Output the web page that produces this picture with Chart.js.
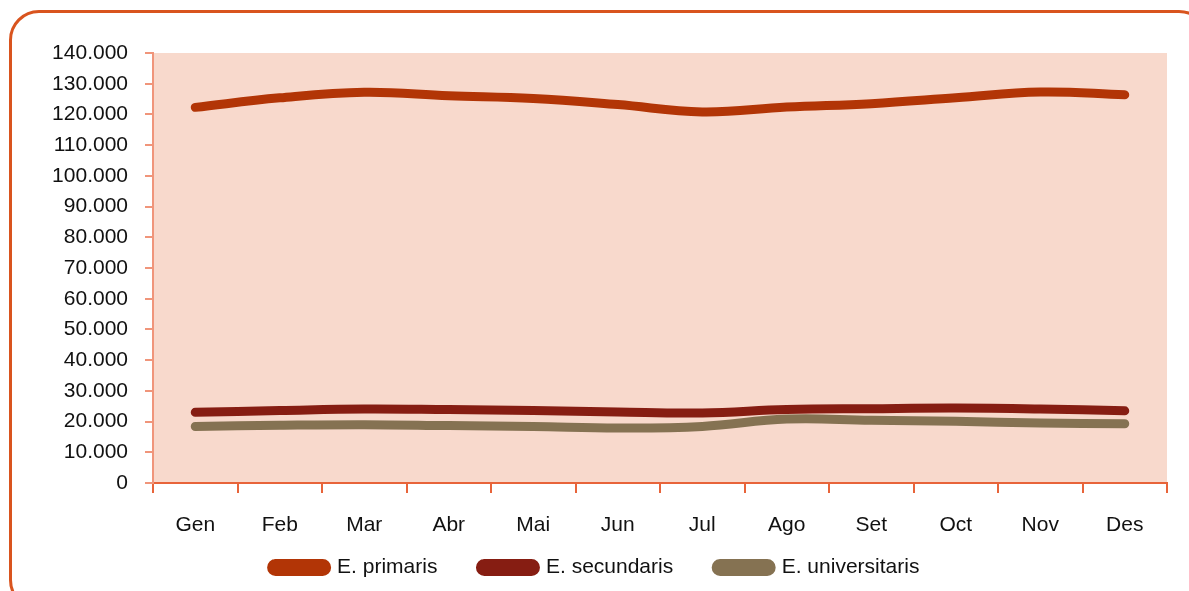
<!DOCTYPE html>
<html>
<head>
<meta charset="utf-8">
<script src="https://cdn.jsdelivr.net/npm/chart.js@4"></script>
<style>
    html, body { margin: 0; padding: 0; background: #fff; overflow: hidden; }
    #wrap { position: relative; width: 1189px; height: 591px; }
    #frame {
        position: absolute; left: 9px; top: 10px; width: 1200px; height: 600px;
        border: 3px solid #D9541E; border-radius: 30px; box-sizing: border-box;
    }
    #chart { position: absolute; left: 0; top: 0; }
</style>
</head>
<body>
<div id="wrap">
    <div id="frame"></div>
    <canvas id="chart" width="1189" height="591"></canvas>
</div>
<script>
    const months = ['Gen', 'Feb', 'Mar', 'Abr', 'Mai', 'Jun', 'Jul', 'Ago', 'Set', 'Oct', 'Nov', 'Des'];
    const primaris = [122300, 125400, 127200, 126100, 125200, 123200, 120800, 122400, 123500, 125400, 127300, 126400];
    const secundaris = [23000, 23600, 24100, 23900, 23600, 23100, 22800, 23900, 24200, 24400, 24100, 23500];
    const universitaris = [18400, 18800, 19000, 18700, 18400, 17900, 18400, 20800, 20400, 20100, 19500, 19300];
    const yTicks = [0, 10000, 20000, 30000, 40000, 50000, 60000, 70000, 80000, 90000, 100000, 110000, 120000, 130000, 140000];

    function fmt(v) {
        return String(v).replace(/\B(?=(\d{3})+(?!\d))/g, '.');
    }

    // plot area fill
    const plotBg = {
        id: 'plotBg',
        beforeDraw(chart) {
            const a = chart.chartArea;
            const ctx = chart.ctx;
            ctx.save();
            ctx.fillStyle = '#F8D9CC';
            ctx.fillRect(a.left, a.top, a.right - a.left, a.bottom - a.top);
            ctx.restore();
        }
    };

    // legend padding is big (horizontal gaps), so stretch the box upward after layout
    const legendShift = {
        id: 'legendShift',
        afterLayout(chart) {
            const lg = chart.legend;
            lg.top -= 26;
            lg.height += 26;
            lg.left += 12; lg.right += 12;
        }
    };

    function ds(label, data, color) {
        return {
            label: label,
            data: data,
            borderColor: color,
            backgroundColor: color,
            borderWidth: 9,
            borderCapStyle: 'round',
            borderJoinStyle: 'round',
            pointRadius: 0,
            tension: 0.4,
            fill: false
        };
    }

    new Chart(document.getElementById('chart'), {
        type: 'line',
        data: {
            labels: months,
            datasets: [
                ds('E. primaris', primaris, '#B23506'),
                ds('E. secundaris', secundaris, '#861D12'),
                ds('E. universitaris', universitaris, '#857252')
            ]
        },
        plugins: [plotBg, legendShift],
        options: {
            responsive: false,
            animation: false,
            layout: { padding: { left: 0, top: 53, right: 22, bottom: 3 } },
            plugins: {
                tooltip: { enabled: false },
                legend: {
                    position: 'bottom',
                    maxHeight: 48,
                    labels: {
                        boxWidth: 55,
                        boxHeight: 8,
                        useBorderRadius: true,
                        borderRadius: 4,
                        padding: 43,
                        color: '#111',
                        font: { family: 'Liberation Sans', size: 21 }
                    }
                }
            },
            scales: {
                x: {
                    offset: true,
                    grid: {
                        offset: true,
                        drawOnChartArea: false,
                        tickLength: 10,
                        tickColor: '#E8643A',
                        lineWidth: 2
                    },
                    border: { color: '#E8643A', width: 2 },
                    ticks: {
                        padding: 20,
                        color: '#111',
                        font: { family: 'Liberation Sans', size: 21 }
                    },
                    afterFit(scale) { scale.height = 57; }
                },
                y: {
                    min: 0,
                    max: 140000,
                    afterBuildTicks(scale) { scale.ticks = yTicks.map(v => ({ value: v })); },
                    grid: {
                        drawOnChartArea: false,
                        tickLength: 8,
                        tickColor: '#F0957A',
                        lineWidth: 2
                    },
                    border: { color: '#F0957A', width: 2 },
                    ticks: {
                        padding: 17,
                        color: '#111',
                        font: { family: 'Liberation Sans', size: 21 },
                        callback: v => fmt(v)
                    },
                    afterFit(scale) { scale.width = 153; }
                }
            }
        }
    });
</script>
</body>
</html>
